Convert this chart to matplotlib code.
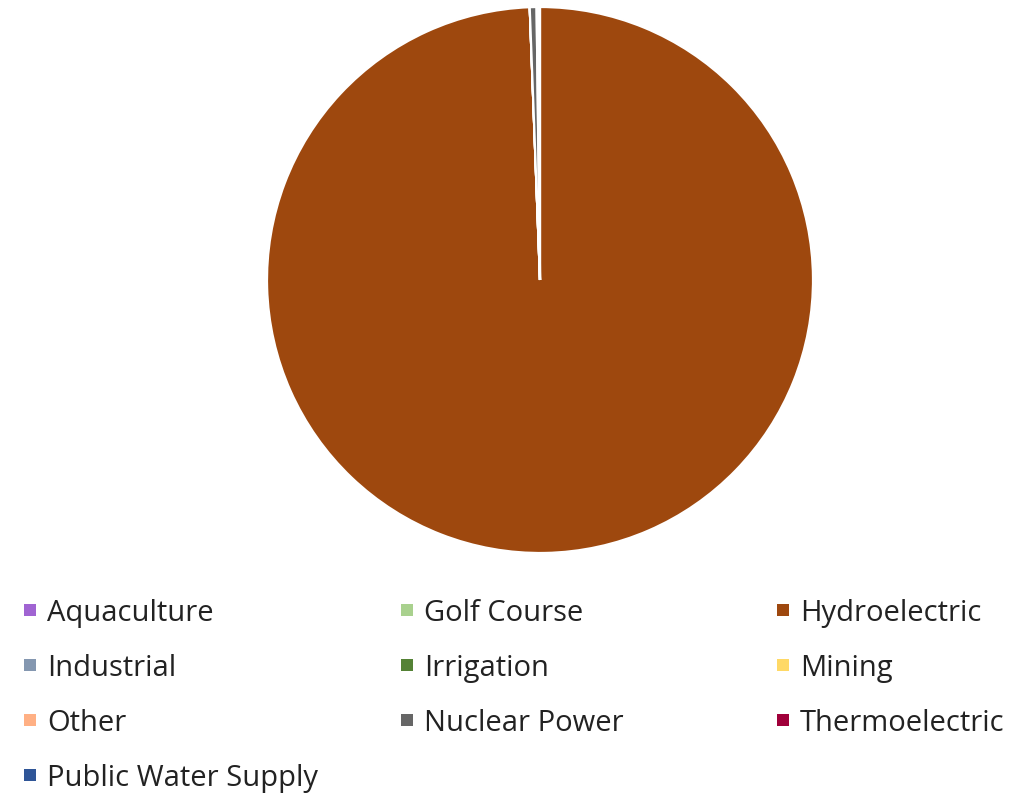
import matplotlib
matplotlib.use("Agg")
import matplotlib.pyplot as plt
from matplotlib.patches import Rectangle

categories = ["Aquaculture", "Golf Course", "Hydroelectric", "Industrial", "Irrigation",
              "Mining", "Other", "Nuclear Power", "Thermoelectric", "Public Water Supply"]
values = [0.0, 0.0, 99.4, 0.0, 0.0, 0.0, 0.0, 0.4, 0.1, 0.1]
colors = ["#A064D2", "#A9D18E", "#9E480E", "#8497B0", "#548235",
          "#FFD966", "#FFB084", "#666666", "#A0003A", "#2F5597"]

W, H = 1033, 793
fig = plt.figure(figsize=(W / 100, H / 100), dpi=100)
plt.rcParams['font.family'] = ['Open Sans', 'DejaVu Sans']

cx, cy, r = 540, 280, 273
ax = fig.add_axes([(cx - r) / W, (H - cy - r) / H, 2 * r / W, 2 * r / H])
ax.pie(values, colors=colors, startangle=90, counterclock=False, radius=1,
       wedgeprops=dict(edgecolor="white", linewidth=1.6))
ax.set_xlim(-1, 1)
ax.set_ylim(-1, 1)
ax.set_aspect("equal")
ax.axis("off")

col_x = [24, 401, 777]
row_y = [610, 665, 720, 775]
sq = 12
for i, (lab, col) in enumerate(zip(categories, colors)):
    rr, cc = divmod(i, 3)
    x0 = col_x[cc]
    y0 = row_y[rr]
    fig.add_artist(Rectangle((x0 / W, (H - y0 - sq / 2) / H), sq / W, sq / H,
                             transform=fig.transFigure, facecolor=col, edgecolor="none"))
    fig.text((x0 + 23) / W, (H - y0) / H, lab, fontsize=21, color="#222222",
             va="center_baseline", ha="left")

fig.savefig("out.png", dpi=100, facecolor="white")
